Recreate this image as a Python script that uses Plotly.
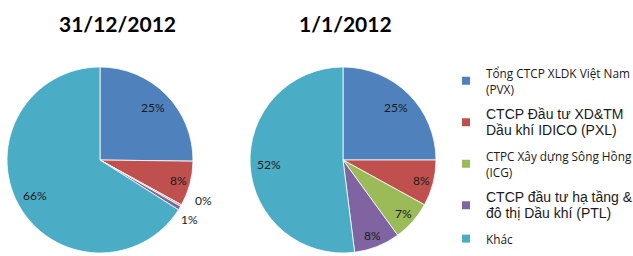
import math
import plotly.graph_objects as go

labels = ["Tổng CTCP XLDK Việt Nam<br>(PVX)",
          "CTCP Đầu tư XD&TM<br>Dầu khí IDICO (PXL)",
          "CTPC Xây dựng Sông Hồng<br>(ICG)",
          "CTCP đầu tư hạ tầng &<br>đô thị Dầu khí (PTL)",
          "Khác"]
values_2012_end = [25.2, 7.8, 0.3, 0.7, 66.0]
values_2012_start = [25.0, 8.0, 7.0, 8.0, 52.0]
titles = ["31/12/2012", "1/1/2012"]
colors = ["#4F81BD", "#C0504D", "#9BBB59", "#8064A2", "#4BACC6"]

W, H = 633, 256
R = 93
centers = [(100, 160), (343, 160)]
title_x = [117, 345]
FONT = "Lato"


def dom(cx, cy, r):
    return dict(x=[(cx - r) / W, (cx + r) / W], y=[1 - (cy + r) / H, 1 - (cy - r) / H])


fig = go.Figure()
for i, vals in enumerate([values_2012_end, values_2012_start]):
    cx, cy = centers[i]
    fig.add_trace(go.Pie(
        labels=labels, values=vals, sort=False, direction="clockwise",
        rotation=0, marker=dict(colors=colors, line=dict(color="white", width=0.8)),
        textinfo="none", showlegend=False,
        domain=dom(cx, cy, R), hoverinfo="label+percent"))
    # data labels computed from the slice angles
    total = sum(vals)
    cum = 0.0
    outside_shift = [(12, -11), (0, 5)]
    k = 0
    for v in vals:
        mid = (cum + v / 2) / total * 2 * math.pi
        cum += v
        pct = v / total
        txt = f"{round(pct * 100):.0f}%"
        if pct < 0.02:
            rr = 1.13 * R
            px = cx + rr * math.sin(mid) + outside_shift[k][0]
            py = cy - rr * math.cos(mid) + outside_shift[k][1]
            k += 1
        else:
            rr = (0.8 if pct >= 0.15 else 0.87) * R
            px = cx + rr * math.sin(mid)
            py = cy - rr * math.cos(mid)
        fig.add_annotation(x=px / W, y=1 - py / H, xref="paper", yref="paper", text=txt,
                           showarrow=False, xanchor="center", yanchor="middle",
                           font=dict(family=FONT, size=12, color="#1a1a1a"))
    fig.add_annotation(x=title_x[i] / W, y=1 - 23 / H, xref="paper", yref="paper",
                       text="<b>" + titles[i] + "</b>", showarrow=False,
                       xanchor="center", yanchor="middle",
                       font=dict(family=FONT, size=21, color="black"))

# legend entries (one per category)
legend_fonts = [("Open Sans", 11.8), ("Liberation Sans", 14), ("Open Sans", 11.8),
                ("Liberation Sans", 14), ("Open Sans", 11.8)]
for j, (lab, col) in enumerate(zip(labels, colors)):
    fam, sz = legend_fonts[j]
    name = "<br>".join(f"<span style='font-family:{fam};font-size:{sz}px'>{p}</span>"
                       for p in lab.split("<br>"))
    fig.add_trace(go.Scatter(x=[None], y=[None], mode="markers", name=name,
                             marker=dict(symbol="square", size=8, color=col),
                             legendgroup=f"g{j}", showlegend=True, hoverinfo="skip"))

fig.update_layout(
    width=W, height=H, margin=dict(l=0, r=0, t=0, b=0, autoexpand=False),
    paper_bgcolor="white", plot_bgcolor="white",
    xaxis=dict(visible=False), yaxis=dict(visible=False),
    legend=dict(x=446 / W, y=1 - 58 / H, xanchor="left", yanchor="top",
                font=dict(family="Open Sans", size=12.5, color="#1a1a1a"),
                itemwidth=30, tracegroupgap=6, bgcolor="rgba(0,0,0,0)"),
)
fig.write_html("out.html")
